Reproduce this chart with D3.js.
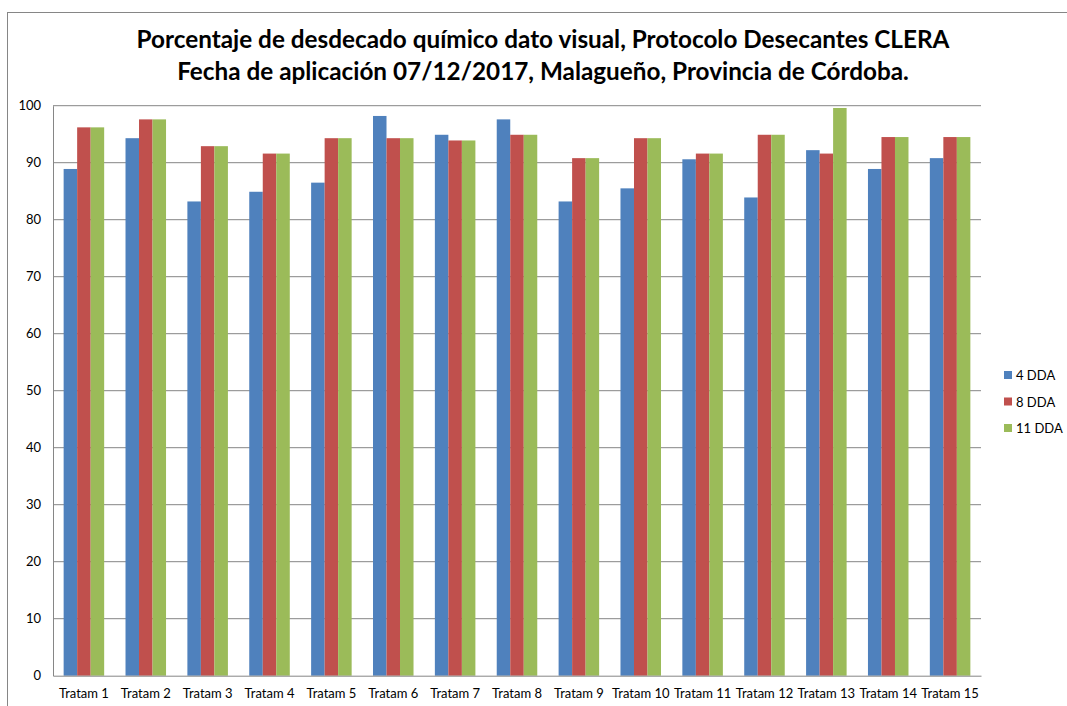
<!DOCTYPE html>
<html lang="es">
<head>
<meta charset="utf-8">
<title>Desecado químico</title>
<script src="https://d3js.org/d3.v7.min.js"></script>
<style>
  body{margin:0;background:#fff;font-family:Lato, "Open Sans", sans-serif;}
  .axis text{font-size:13px;fill:#000;font-family:Lato, "Open Sans", sans-serif;}
</style>
</head>
<body>
<div id="chart"></div>
<script>
var categories = ["Tratam 1","Tratam 2","Tratam 3","Tratam 4","Tratam 5","Tratam 6","Tratam 7","Tratam 8","Tratam 9","Tratam 10","Tratam 11","Tratam 12","Tratam 13","Tratam 14","Tratam 15"]
var seriesNames = ["4 DDA","8 DDA","11 DDA"]
var dda4  = [88.9, 94.3, 83.2, 84.9, 86.5, 98.2, 94.9, 97.6, 83.2, 85.5, 90.6, 83.9, 92.2, 88.9, 90.8]
var dda8  = [96.2, 97.6, 92.9, 91.6, 94.3, 94.3, 93.9, 94.9, 90.8, 94.3, 91.6, 94.9, 91.6, 94.5, 94.5]
var dda11 = [96.2, 97.6, 92.9, 91.6, 94.3, 94.3, 93.9, 94.9, 90.8, 94.3, 91.6, 94.9, 99.6, 94.5, 94.5]
var yTicks = [0,10,20,30,40,50,60,70,80,90,100]
var colors = ["#4F81BD","#C0504D","#9BBB59"]
var titleLines = ["Porcentaje de desdecado químico dato visual, Protocolo Desecantes CLERA",
                  "Fecha de aplicación 07/12/2017, Malagueño, Provincia de Córdoba."]

var W = 1067, H = 706
var plotLeft = 53, plotRight = 981, plotTop = 105.7, plotBottom = 675.7

var svg = d3.select("#chart").append("svg").attr("width",W).attr("height",H)

// outer chart frame
svg.append("rect").attr("x",7.5).attr("y",12.5).attr("width",W+20).attr("height",H+20)
  .attr("fill","none").attr("stroke","#868686").attr("stroke-width",1)

// title
svg.selectAll(".title").data(titleLines).enter().append("text")
  .attr("class","title")
  .attr("x",543).attr("y",function(d,i){ return 48 + i*32 })
  .attr("text-anchor","middle")
  .attr("font-weight","bold").attr("font-size","24.3px")
  .text(function(d){ return d })

var x0 = d3.scaleBand().domain(categories).range([plotLeft,plotRight]).paddingInner(0.345).paddingOuter(0.172)
var x1 = d3.scaleBand().domain(seriesNames).range([0,x0.bandwidth()])
var y = d3.scaleLinear().domain([0,100]).range([plotBottom,plotTop])

// gridlines
svg.append("g").selectAll("line").data(yTicks.slice(1)).enter().append("line")
  .attr("x1",plotLeft).attr("x2",plotRight)
  .attr("y1",function(d){ return y(d) }).attr("y2",function(d){ return y(d) })
  .attr("stroke","#868686").attr("stroke-width",1)

// bars
var series = [dda4, dda8, dda11]
var groups = svg.append("g").selectAll("g").data(series).enter().append("g")
  .attr("fill",function(d,i){ return colors[i] })
groups.each(function(vals,si){
  d3.select(this).selectAll("rect").data(vals).enter().append("rect")
    .attr("x",function(d,i){ return x0(categories[i]) + x1(seriesNames[si]) })
    .attr("width",x1.bandwidth())
    .attr("y",function(d){ return y(d) })
    .attr("height",function(d){ return plotBottom - y(d) })
})

// y axis
var yAxis = d3.axisLeft(y).tickValues(yTicks).tickSize(0).tickPadding(12)
var gy = svg.append("g").attr("class","axis").attr("transform","translate("+plotLeft+",0)").call(yAxis)
gy.select(".domain").attr("stroke","#868686")

// x axis
var xAxis = d3.axisBottom(x0).tickSize(0).tickPadding(13)
var gx = svg.append("g").attr("class","axis").attr("transform","translate(0,"+plotBottom+")").call(xAxis)
gx.select(".domain").attr("stroke","#868686")

// legend
var leg = svg.append("g").selectAll("g").data(seriesNames).enter().append("g")
  .attr("transform",function(d,i){ return "translate(1004,"+(376+i*26.5)+")" })
leg.append("rect").attr("x",0).attr("y",-5).attr("width",8).attr("height",8)
  .attr("fill",function(d,i){ return colors[i] })
leg.append("text").attr("x",12).attr("y",4).attr("font-size","13px").text(function(d){ return d })
</script>
</body>
</html>
